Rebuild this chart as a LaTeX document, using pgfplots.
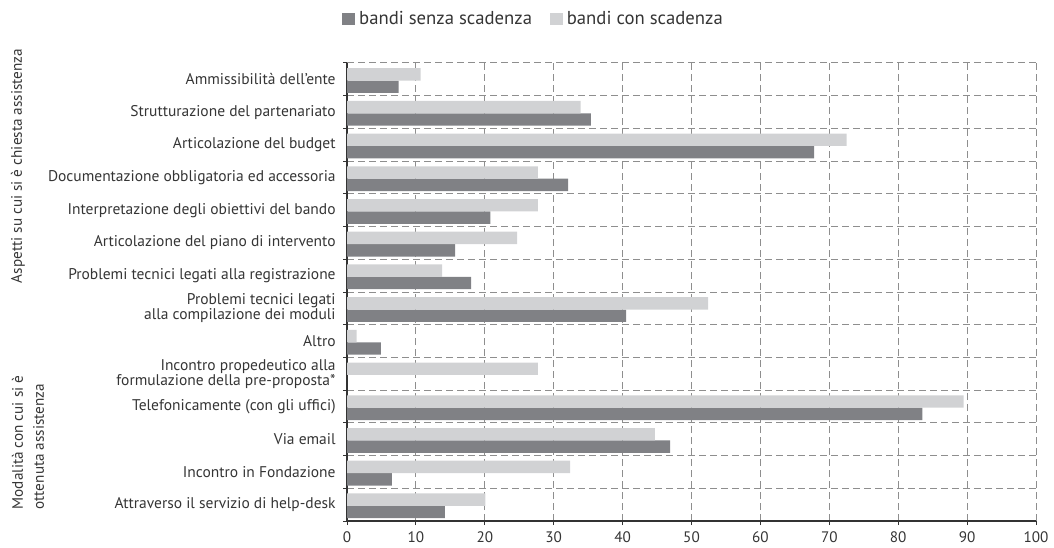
\documentclass[border=0pt]{standalone}
\usepackage{pgfplots}
\pgfplotsset{compat=1.18}
\usepackage{fontspec}
\setmainfont{PT Sans}
\definecolor{darkbar}{HTML}{808185}
\definecolor{lightbar}{HTML}{D1D2D4}
\definecolor{txt}{HTML}{353535}
\definecolor{gridc}{HTML}{8E8E8E}
\definecolor{axc}{HTML}{333333}
\begin{document}
\begin{tikzpicture}
\useasboundingbox (0,0) rectangle (527pt,273.5pt);
\begin{axis}[
  at={(173.5pt,13pt)}, anchor=south west,
  width=344.5pt, height=229pt, scale only axis,
  xmin=0, xmax=100, ymin=-0.5, ymax=13.5,
  xtick={0,10,...,100},
  ytick={-0.5,0.5,...,13.5},
  yticklabel=\empty,
  extra y ticks={0,...,13},
  extra y tick labels={
    Attraverso il servizio di help-desk,
    Incontro in Fondazione,
    Via email,
    Telefonicamente (con gli uffici),
    {Incontro propedeutico alla\\formulazione della pre-proposta*},
    Altro,
    {Problemi tecnici legati\\alla compilazione dei moduli},
    Problemi tecnici legati alla registrazione,
    Articolazione del piano di intervento,
    Interpretazione degli obiettivi del bando,
    Documentazione obbligatoria ed accessoria,
    Articolazione del budget,
    Strutturazione del partenariato,
    Ammissibilità dell’ente},
  extra y tick style={ymajorgrids=false, major tick length=0pt,
    yticklabel style={align=right, inner sep=0pt, font=\fontsize{7.75}{7.6}\selectfont, text=txt}},
  yticklabel shift=5.5pt,
  axis x line=bottom, axis y line=left,
  axis line style={-},
  x axis line style={axc, line width=0.65pt},
  y axis line style={axc, line width=1pt},
  tick align=outside,
  major tick length=2pt,
  tick style={axc, line width=0.5pt},
  xmajorgrids, ymajorgrids,
  grid style={gridc, line width=0.5pt, dash pattern=on 3.3pt off 2.2pt},
  /pgf/number format/assume math mode=true,
  xticklabel style={font=\fontsize{7.6}{8}\selectfont, text=txt},
  xbar, bar width=6.2pt,
  legend style={at={(-0.016,1.096)}, anchor=west, draw=none, fill=none,
    font=\fontsize{9.35}{10}\selectfont, text=txt, legend columns=2,
    /tikz/every even column/.append style={column sep=7pt}},
  legend image code/.code={\fill[#1, draw=none] (0pt,-3.2pt) rectangle (6.4pt,3.2pt);},
  clip=false,
]
\addplot[fill=darkbar, draw=none, bar shift=-3.7pt] coordinates {
 (7.5,13) (35.4,12) (67.8,11) (32.1,10) (20.8,9) (15.7,8) (18.0,7)
 (40.5,6) (4.9,5) (83.5,3) (46.9,2) (6.5,1) (14.2,0)};
\addlegendentry{bandi senza scadenza}
\addplot[fill=lightbar, draw=none, bar shift=2.5pt] coordinates {
 (10.7,13) (33.9,12) (72.5,11) (27.7,10) (27.7,9) (24.7,8) (13.8,7)
 (52.4,6) (1.4,5) (27.7,4) (89.5,3) (44.7,2) (32.4,1) (20.1,0)};
\addlegendentry{bandi con scadenza}
\end{axis}
\node[rotate=90, font=\fontsize{7.6}{8}\selectfont, text=txt] at (9pt,190.5pt) {Aspetti su cui si è chiesta assistenza};
\node[rotate=90, align=left, font=\fontsize{7.6}{10.5}\selectfont, text=txt] at (14pt,52.25pt) {Modalità con cui si è\\ottenuta assistenza};
\end{tikzpicture}
\end{document}
